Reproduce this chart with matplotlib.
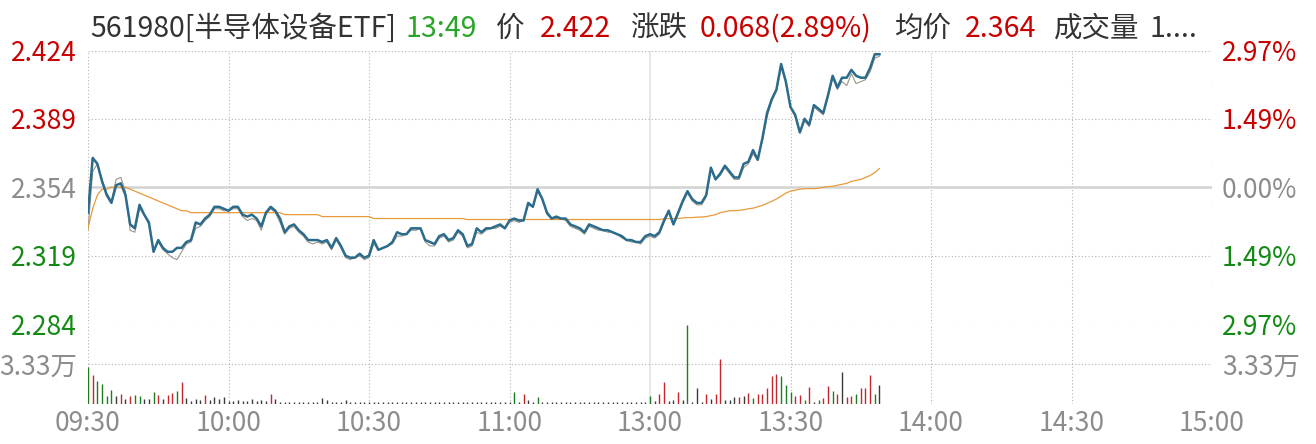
import numpy as np
import matplotlib
matplotlib.use('Agg')
import matplotlib.pyplot as plt

plt.rcParams['font.family'] = ['Noto Sans CJK SC', 'DejaVu Sans']

# minute price (09:30 .. 11:30, then 13:01 .. 13:49)
price = [
    2.341, 2.369, 2.366, 2.357, 2.350, 2.346, 2.355, 2.356, 2.350, 2.335,
    2.333, 2.345, 2.340, 2.336, 2.321, 2.327, 2.323, 2.321, 2.321, 2.323,
    2.323, 2.326, 2.327, 2.336, 2.335, 2.338, 2.340, 2.344, 2.344, 2.343,
    2.342, 2.344, 2.344, 2.340, 2.339, 2.340, 2.338, 2.334, 2.341, 2.344,
    2.342, 2.338, 2.331, 2.334, 2.335, 2.332, 2.330, 2.327, 2.327, 2.327,
    2.326, 2.327, 2.323, 2.328, 2.324, 2.319, 2.318, 2.318, 2.320, 2.318,
    2.319, 2.327, 2.322, 2.323, 2.324, 2.326, 2.331, 2.330, 2.330, 2.333,
    2.333, 2.333, 2.327, 2.326, 2.325, 2.329, 2.330, 2.327, 2.328, 2.332,
    2.330, 2.324, 2.325, 2.333, 2.331, 2.333, 2.333, 2.334, 2.335, 2.333,
    2.337, 2.338, 2.337, 2.337, 2.346, 2.344, 2.353, 2.348, 2.341, 2.338,
    2.339, 2.338, 2.338, 2.335, 2.334, 2.333, 2.331, 2.335, 2.334, 2.333,
    2.332, 2.332, 2.331, 2.330, 2.329, 2.327, 2.327, 2.326, 2.326, 2.329,
    2.330, 2.329, 2.331, 2.337, 2.342, 2.335, 2.341, 2.347, 2.352, 2.348,
    2.346, 2.346, 2.350, 2.364, 2.358, 2.361, 2.365, 2.362, 2.359, 2.359,
    2.366, 2.367, 2.373, 2.368, 2.379, 2.392, 2.399, 2.404, 2.417, 2.408,
    2.395, 2.391, 2.382, 2.389, 2.386, 2.396, 2.394, 2.392, 2.401, 2.411,
    2.405, 2.410, 2.410, 2.414, 2.411, 2.410, 2.410, 2.415, 2.422, 2.422,
]

# thin reference line (IOPV)
iopv = [
    2.332, 2.362, 2.366, 2.358, 2.351, 2.347, 2.358, 2.359, 2.352, 2.332,
    2.331, 2.343, 2.340, 2.335, 2.322, 2.326, 2.322, 2.320, 2.318, 2.317,
    2.321, 2.325, 2.326, 2.333, 2.334, 2.337, 2.339, 2.343, 2.343, 2.342,
    2.342, 2.343, 2.343, 2.339, 2.337, 2.338, 2.337, 2.332, 2.340, 2.343,
    2.341, 2.336, 2.330, 2.333, 2.334, 2.331, 2.329, 2.326, 2.325, 2.326,
    2.325, 2.326, 2.322, 2.327, 2.323, 2.318, 2.317, 2.318, 2.319, 2.317,
    2.318, 2.325, 2.322, 2.323, 2.324, 2.325, 2.329, 2.329, 2.330, 2.332,
    2.332, 2.333, 2.326, 2.324, 2.324, 2.328, 2.329, 2.326, 2.327, 2.331,
    2.329, 2.323, 2.324, 2.331, 2.330, 2.332, 2.333, 2.333, 2.334, 2.333,
    2.336, 2.337, 2.336, 2.337, 2.345, 2.344, 2.352, 2.348, 2.340, 2.338,
    2.338, 2.338, 2.337, 2.334, 2.333, 2.332, 2.330, 2.334, 2.333, 2.332,
    2.332, 2.331, 2.331, 2.330, 2.328, 2.327, 2.326, 2.326, 2.325, 2.328,
    2.329, 2.328, 2.330, 2.336, 2.341, 2.335, 2.340, 2.346, 2.351, 2.347,
    2.345, 2.345, 2.349, 2.363, 2.358, 2.360, 2.364, 2.361, 2.358, 2.358,
    2.364, 2.366, 2.371, 2.368, 2.378, 2.390, 2.398, 2.403, 2.415, 2.408,
    2.395, 2.390, 2.382, 2.388, 2.385, 2.395, 2.393, 2.391, 2.400, 2.410,
    2.404, 2.408, 2.406, 2.412, 2.407, 2.408, 2.409, 2.413, 2.420, 2.421,
]

# average price
avg = [
    2.333, 2.343, 2.350, 2.353, 2.353, 2.354, 2.354, 2.354, 2.354, 2.353,
    2.352, 2.351, 2.350, 2.349, 2.348, 2.347, 2.346, 2.345, 2.344, 2.343,
    2.342, 2.342, 2.341, 2.341, 2.341, 2.341, 2.341, 2.341, 2.341, 2.341,
    2.341, 2.341, 2.341, 2.341, 2.341, 2.341, 2.341, 2.341, 2.341, 2.341,
    2.341, 2.341, 2.340, 2.340, 2.340, 2.340, 2.340, 2.340, 2.340, 2.340,
    2.339, 2.339, 2.339, 2.339, 2.339, 2.339, 2.339, 2.339, 2.339, 2.339,
    2.339, 2.338, 2.338, 2.338, 2.338, 2.338, 2.338, 2.338, 2.338, 2.338,
    2.338, 2.338, 2.338, 2.338, 2.338, 2.338, 2.338, 2.338, 2.338, 2.338,
    2.338, 2.3375, 2.3375, 2.3375, 2.3375, 2.3375, 2.3375, 2.3375, 2.3375, 2.3375,
    2.3375, 2.3375, 2.3375, 2.3375, 2.3375, 2.3375, 2.3375, 2.3375, 2.3375, 2.3375,
    2.3375, 2.3375, 2.3375, 2.3375, 2.3375, 2.3375, 2.3375, 2.3375, 2.3375, 2.3375,
    2.3375, 2.3375, 2.3375, 2.3375, 2.3375, 2.3375, 2.3375, 2.3375, 2.3375, 2.3375,
    2.3375, 2.3375, 2.3375, 2.3378, 2.338, 2.338, 2.338, 2.3383, 2.3385, 2.3385,
    2.3387, 2.3388, 2.339, 2.3395, 2.340, 2.341, 2.3415, 2.342, 2.342, 2.3422,
    2.3425, 2.343, 2.3433, 2.344, 2.3448, 2.3458, 2.3468, 2.348, 2.3495, 2.351,
    2.352, 2.3525, 2.353, 2.3532, 2.3533, 2.3533, 2.3535, 2.354, 2.3543, 2.3545,
    2.355, 2.3555, 2.356, 2.357, 2.3575, 2.358, 2.359, 2.360, 2.3615, 2.3636,
]

# volume in 万, with direction r / g / k
volume = [
    3.1, 2.4, 1.95, 1.7, 0.7, 1.2, 0.7, 0.85, 0.45, 0.65,
    0.75, 0.65, 0.45, 0.4, 1.0, 0.75, 0.45, 0.75, 0.95, 1.1,
    1.8, 0.5, 0.25, 0.45, 0.3, 0.75, 0.35, 0.55, 0.4, 0.55,
    0.25, 0.25, 0.3, 0.25, 0.25, 0.45, 0.25, 0.35, 0.25, 0.8,
    0.4, 0.2, 0.2, 0.2, 0.2, 0.2, 0.2, 0.2, 0.2, 0.2,
    0.5, 0.3, 0.2, 0.2, 0.2, 0.35, 0.18, 0.18, 0.18, 0.18,
    0.15, 0.15, 0.15, 0.15, 0.15, 0.15, 0.15, 0.15, 0.15, 0.15,
    0.15, 0.15, 0.15, 0.15, 0.15, 0.15, 0.15, 0.15, 0.15, 0.15,
    0.15, 0.15, 0.15, 0.15, 0.15, 0.15, 0.15, 0.15, 0.15, 0.15,
    0.15, 1.0, 0.2, 0.8, 0.3, 0.2, 0.55, 0.15, 0.15, 0.15,
    0.15, 0.15, 0.15, 0.15, 0.15, 0.15, 0.15, 0.15, 0.15, 0.15,
    0.15, 0.15, 0.15, 0.15, 0.15, 0.15, 0.15, 0.15, 0.15, 0.15,
    0.65, 0.25, 0.8, 1.8, 0.25, 0.3, 1.0, 0.35, 6.6, 0.2,
    1.3, 0.2, 0.8, 0.45, 0.8, 3.75, 0.3, 0.35, 0.55, 0.55,
    0.65, 0.95, 0.5, 0.85, 0.85, 1.35, 2.3, 2.5, 2.35, 1.6,
    1.0, 0.65, 0.75, 0.3, 1.45, 0.2, 0.35, 0.5, 1.5, 1.1,
    0.8, 2.7, 0.55, 0.65, 0.85, 1.3, 1.3, 2.45, 0.85, 1.6,
]
vol_dir = list(
    'grgggg' 'krkrgg' 'kkgrkr' 'rgrkkk' 'krkkkk'
    'kkkkkk' 'kkkr' 'kkkkkkkkkk'
    'kkkkkkkkkk' 'kkkkkkkkkk' 'kkkkkkkkkk' 'kkkkkkkkkk'
    'kgkrkkgkkk' 'kkkkkkkkkk' 'kkkkkkkkkk'
    'gkrrkkrkgk' 'kkrkrrkkkr' 'krgrrrrrgg' 'grrgrkgrrg' 'rkrrgrrrgk'
)

prev_close = 2.354
time_ticks = [0, 30, 60, 90, 120, 150, 180, 210, 240]
time_labels = ['09:30', '10:00', '10:30', '11:00', '13:00', '13:30', '14:00', '14:30', '15:00']

RED = '#c80000'
GREEN = '#138a13'
GRAY = '#8c8c8c'
DARK = '#333333'
col_map = {'r': '#c0282d', 'g': '#1e7b1e', 'k': '#3a3a3a'}

W, H = 1316, 444
fig = plt.figure(figsize=(W / 100, H / 100), dpi=100)
fig.patch.set_facecolor('white')

ax = fig.add_axes([88 / W, (H - 324) / H, 1124 / W, 273.5 / H])
axv = fig.add_axes([88 / W, (H - 404) / H, 1124 / W, 80 / H])

pct = 0.0297
lo, hi = prev_close * (1 - pct), prev_close * (1 + pct)
x = np.arange(len(price))

# grid
dot = dict(color='#b4b4b4', lw=0.8, linestyle=(0, (1, 2)))
for a in (ax, axv):
    for t in time_ticks:
        if t == 120:
            a.axvline(t, color='#e2e2e2', lw=1.2, zorder=0)
        else:
            a.axvline(t, zorder=0, **dot)
    for s in a.spines.values():
        s.set_visible(False)
    a.set_xlim(0, 240)

for yv in [hi, prev_close * (1 + pct / 2), prev_close * (1 - pct / 2), lo]:
    ax.axhline(yv, zorder=0, **dot)
ax.axhline(prev_close, color='#d2d2d2', lw=1.8, zorder=0)

ax.plot(x, iopv, color='#9a9488', lw=0.8, zorder=2)
ax.plot(x, avg, color='#e89a3c', lw=0.9, zorder=3)
ax.plot(x, price, color='#2b6b8c', lw=1.8, zorder=4)
ax.set_ylim(lo, hi)
ax.set_xticks([])

yt = [hi, prev_close * (1 + pct / 2), prev_close, prev_close * (1 - pct / 2), lo]
ax.set_yticks(yt)
ax.set_yticklabels(['2.424', '2.389', '2.354', '2.319', '2.284'])
ax.tick_params(axis='y', length=0, pad=8, labelsize=19)
ycols = [RED, RED, GRAY, GREEN, GREEN]
for lab, c in zip(ax.get_yticklabels(), ycols):
    lab.set_color(c)

axr = ax.twinx()
axr.set_ylim(lo, hi)
axr.set_yticks(yt)
axr.set_yticklabels(['2.97%', '1.49%', '0.00%', '1.49%', '2.97%'])
axr.tick_params(axis='y', length=0, pad=7, labelsize=19)
for lab, c in zip(axr.get_yticklabels(), ycols):
    lab.set_color(c)
for s in axr.spines.values():
    s.set_visible(False)

# volume
axv.vlines(x, 0, volume, colors=[col_map[c] for c in vol_dir], lw=1.0)
axv.set_ylim(0, 6.66)
axv.axhline(3.33, zorder=0, **dot)
axv.set_yticks([3.33])
axv.set_yticklabels(['3.33万'])
axv.tick_params(axis='y', length=0, pad=8, labelsize=19, labelcolor=GRAY)
axv.set_xticks(time_ticks)
axv.set_xticklabels(time_labels)
axv.tick_params(axis='x', length=0, pad=4, labelsize=19, labelcolor=GRAY)
axvr = axv.twinx()
axvr.set_ylim(0, 6.66)
axvr.set_yticks([3.33])
axvr.set_yticklabels(['3.33万'])
axvr.tick_params(axis='y', length=0, pad=7, labelsize=19, labelcolor=GRAY)
for s in axvr.spines.values():
    s.set_visible(False)

# header
header = [
    (90, '561980[半导体设备ETF]', DARK),
    (405, '13:49', '#2aa52a'),
    (496, '价', DARK),
    (540, '2.422', RED),
    (630, '涨跌', DARK),
    (700, '0.068(2.89%)', RED),
    (895, '均价', DARK),
    (965, '2.364', RED),
    (1054, '成交量', DARK),
    (1149, '1....', DARK),
]
for px, txt, c in header:
    fig.text(px / W, 1 - 29 / H, txt, color=c, fontsize=20.5, ha='left', va='center')

fig.savefig('out.png', dpi=100, facecolor='white')
